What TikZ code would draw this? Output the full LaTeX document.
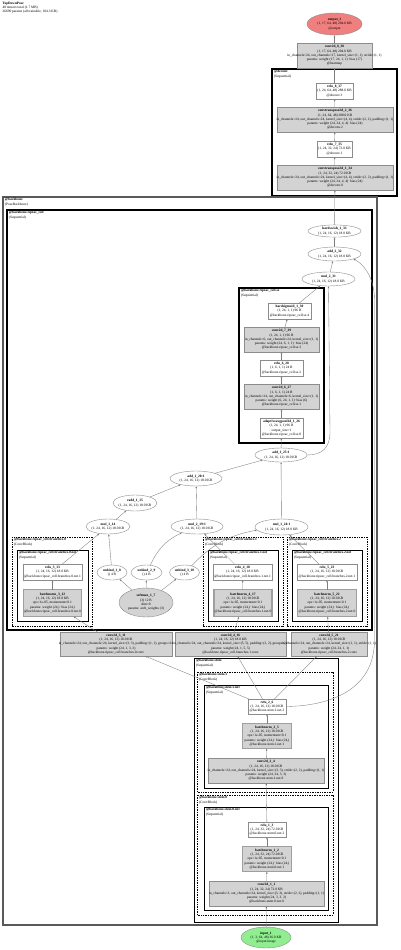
\documentclass[tikz,border=0pt]{standalone}
\usepackage{fontspec}
\setmainfont{Liberation Serif}
\usetikzlibrary{shapes.geometric,arrows.meta}
\definecolor{nodegray}{HTML}{D3D3D3}
\definecolor{edgegray}{HTML}{7F7F7F}
\definecolor{outred}{HTML}{F08080}
\definecolor{ingreen}{HTML}{90EE90}
\definecolor{bordergray}{HTML}{8C8C8C}
\newcommand\tl[1]{\makebox[0pt]{\begin{tabular}{@{}c@{}}#1\end{tabular}}}
\newcommand\nn[6]{\node[#1, minimum width=#4pt, minimum height=#5pt] (#2) at (#3) {\tl{#6}};}
\tikzset{
  lbl/.style={font=\fontsize{3.5}{4.3}\selectfont, inner sep=0pt, outer sep=0pt},
  gbox/.style={lbl, rectangle, draw=bordergray, fill=nodegray, line width=0.4pt},
  wbox/.style={lbl, rectangle, draw=bordergray, fill=white, line width=0.4pt},
  bnbox/.style={lbl, rectangle, draw=gray!75, fill=nodegray, line width=1.4pt},
  oval/.style={lbl, ellipse, draw=bordergray, fill=white, line width=0.4pt},
  goval/.style={oval, fill=nodegray},
  clus/.style={draw=black, line width=1.3pt},
  bbclus/.style={draw=gray!70!black, line width=1.6pt},
  nclus/.style={draw=black, line width=0.9pt},
  dclus/.style={draw=black, line width=0.6pt, dash pattern=on 1pt off 0.7pt},
  clab/.style={lbl, anchor=north west, align=left},
  edge/.style={draw=edgegray, line width=0.35pt, -{Latex[length=2.2pt,width=1.7pt]}},
}
\begin{document}
\begin{tikzpicture}[x=1pt,y=-1pt]
\useasboundingbox (0,0) rectangle (400,950);
\fill[white] (0,0) rectangle (400,950);

% header
\node[clab] (hdr) at (2.5,2) {\textbf{TopDownPose}\\40 tensors total (1.7 MB)\\26690 params (all trainable, 104.3 KB)};

% ---------- clusters ----------
\draw[clus] (272,69) rectangle (397,196);
\node[clab] (l_deconv) at (274,70.5) {\textbf{@deconv}\\(Sequential)};
\draw[bbclus] (3,197) rectangle (377,925);
\node[clab] (l_bb) at (5,198.5) {\textbf{@backbone}\\(PoseBackbone)};
\draw[clus] (7,210) rectangle (372,630);
\node[clab] (l_cell) at (9,211.5) {\textbf{@backbone.ripeac\_cell}\\(Sequential)};
\draw[clus] (239,288) rectangle (324,443);
\node[clab] (l_se) at (241,289.5) {\textbf{@backbone.ripeac\_cell.se}\\(Sequential)};
\draw[dclus] (12,537) rectangle (92,626);
\node[clab] (l_b0) at (14,538.5) {\textbf{@backbone.ripeac\_cell.branches.0}\\(ConvBlock)};
\draw[nclus] (17,550) rectangle (88,621);
\node[clab] (l_b0n) at (19,551.5) {\textbf{@backbone.ripeac\_cell.branches.0.net}\\(Sequential)};
\draw[dclus] (203,537) rectangle (283,626);
\node[clab] (l_b1) at (205,538.5) {\textbf{@backbone.ripeac\_cell.branches.1}\\(ConvBlock)};
\draw[nclus] (208,550) rectangle (278,621);
\node[clab] (l_b1n) at (210,551.5) {\textbf{@backbone.ripeac\_cell.branches.1.net}\\(Sequential)};
\draw[dclus] (287,537) rectangle (367,626);
\node[clab] (l_b2) at (289,538.5) {\textbf{@backbone.ripeac\_cell.branches.2}\\(ConvBlock)};
\draw[nclus] (292,550) rectangle (362,621);
\node[clab] (l_b2n) at (294,551.5) {\textbf{@backbone.ripeac\_cell.branches.2.net}\\(Sequential)};
\draw[nclus] (194,658) rectangle (338,922);
\node[clab] (l_stem) at (196,659.5) {\textbf{@backbone.stem}\\(Sequential)};
\draw[dclus] (197,672) rectangle (333,792);
\node[clab] (l_s1) at (199,673.5) {\textbf{@backbone.stem.1}\\(ConvBlock)};
\draw[nclus] (204,685) rectangle (328,788);
\node[clab] (l_s1n) at (206,686.5) {\textbf{@backbone.stem.1.net}\\(Sequential)};
\draw[dclus] (197,795) rectangle (333,915);
\node[clab] (l_s0) at (199,796.5) {\textbf{@backbone.stem.0}\\(ConvBlock)};
\draw[nclus] (204,807) rectangle (328,910);
\node[clab] (l_s0n) at (206,808.5) {\textbf{@backbone.stem.0.net}\\(Sequential)};

% ---------- nodes ----------
\nn{oval, fill=outred}{output_1}{334.5,24}{55}{22}{\textbf{output\_1}\\(1, 17, 64, 48) 204.0 KB\\@output}
\nn{gbox}{conv2d_8_38}{334.5,55.5}{75}{25}{\textbf{conv2d\_8\_38}\\(1, 17, 64, 48) 204.0 KB\\in\_channels=24, out\_channels=17, kernel\_size=(1, 1), stride=(1, 1)\\params: weight (17, 24, 1, 1)· bias (17)\\@heatmap}
\nn{wbox}{relu_8_37}{334.5,91}{37}{16}{\textbf{relu\_8\_37}\\(1, 24, 64, 48) 288.0 KB\\@deconv.3}
\nn{gbox}{convt_2_36}{335,119.5}{116}{25}{\textbf{convtranspose2d\_2\_36}\\(1, 24, 64, 48) 288.0 KB\\in\_channels=24, out\_channels=24, kernel\_size=(4, 4), stride=(2, 2), padding=(1, 1)\\params: weight (24, 24, 4, 4)· bias (24)\\@deconv.2}
\nn{wbox}{relu_7_35}{334.5,149}{35}{16}{\textbf{relu\_7\_35}\\(1, 24, 32, 24) 72.0 KB\\@deconv.1}
\nn{gbox}{convt_1_34}{335,177.5}{116}{25}{\textbf{convtranspose2d\_1\_34}\\(1, 24, 32, 24) 72.0 KB\\in\_channels=24, out\_channels=24, kernel\_size=(4, 4), stride=(2, 2), padding=(1, 1)\\params: weight (24, 24, 4, 4)· bias (24)\\@deconv.0}
\nn{oval}{hardswish_1_33}{334.5,231}{53}{12}{\textbf{hardswish\_1\_33}\\(1, 24, 16, 12) 18.0 KB}
\nn{oval}{add_2_32}{334.5,254}{53}{14}{\textbf{add\_2\_32}\\(1, 24, 16, 12) 18.0 KB}
\nn{oval}{mul_2_31}{328.5,279}{53}{14}{\textbf{mul\_2\_31}\\(1, 24, 16, 12) 18.0 KB}
\nn{wbox}{hardsigmoid_1_30}{289.5,311}{43}{16}{\textbf{hardsigmoid\_1\_30}\\(1, 24, 1, 1) 96 B\\@backbone.ripeac\_cell.se.4}
\nn{gbox}{conv2d_7_29}{281.5,339.5}{75}{25}{\textbf{conv2d\_7\_29}\\(1, 24, 1, 1) 96 B\\in\_channels=6, out\_channels=24, kernel\_size=(1, 1)\\params: weight (24, 6, 1, 1)· bias (24)\\@backbone.ripeac\_cell.se.3}
\nn{wbox}{relu_6_28}{281.5,368}{43}{16}{\textbf{relu\_6\_28}\\(1, 6, 1, 1) 24 B\\@backbone.ripeac\_cell.se.2}
\nn{gbox}{conv2d_6_27}{281.5,396.5}{75}{25}{\textbf{conv2d\_6\_27}\\(1, 6, 1, 1) 24 B\\in\_channels=24, out\_channels=6, kernel\_size=(1, 1)\\params: weight (6, 24, 1, 1)· bias (6)\\@backbone.ripeac\_cell.se.1}
\nn{wbox}{avgpool_1_26}{281.5,428}{43}{20}{\textbf{adaptiveavgpool2d\_1\_26}\\(1, 24, 1, 1) 96 B\\output\_size=1\\@backbone.ripeac\_cell.se.0}
\nn{oval}{add_1_25}{281,455}{52}{14}{\textbf{add\_1\_25:1}\\(1, 24, 16, 12) 18.0 KB}
\nn{oval}{add_1_20}{196,478.5}{52}{15}{\textbf{add\_1\_20:1}\\(1, 24, 16, 12) 18.0 KB}
\nn{oval}{radd_1_15}{135,503}{44}{16}{\textbf{radd\_1\_15}\\(1, 24, 16, 12) 18.0 KB}
\nn{oval}{mul_1_14}{108,526.5}{44}{15}{\textbf{mul\_1\_14}\\(1, 24, 16, 12) 18.0 KB}
\nn{oval}{mul_2_19}{197,526.5}{52}{15}{\textbf{mul\_2\_19:1}\\(1, 24, 16, 12) 18.0 KB}
\nn{oval}{mul_3_24}{281.5,527}{53}{16}{\textbf{mul\_1\_24:1}\\(1, 24, 16, 12) 18.0 KB}
\nn{oval}{unbind_1_8}{112,572.5}{30}{15}{\textbf{unbind\_1\_8}\\() 4 B}
\nn{oval}{unbind_2_9}{146.5,572.5}{31}{15}{\textbf{unbind\_2\_9}\\() 4 B}
\nn{oval}{unbind_3_10}{184.5,572.5}{30}{15}{\textbf{unbind\_3\_10}\\() 4 B}
\nn{goval}{softmax_1_7}{146,602.5}{54}{29}{\textbf{softmax\_1\_7}\\(3) 12 B\\dim=0\\params: arch\_weights (3)}
\nn{wbox}{relu_3_13}{52.5,572}{59}{16}{\textbf{relu\_3\_13}\\(1, 24, 16, 12) 18.0 KB\\@backbone.ripeac\_cell.branches.0.net.1}
\nn{bnbox}{bn_3_12}{52.5,603}{58}{27}{\textbf{batchnorm\_3\_12}\\(1, 24, 16, 12) 18.0 KB\\eps=1e-05, momentum=0.1\\params: weight (24,)· bias (24,)\\@backbone.ripeac\_cell.branches.0.net.0}
\nn{wbox}{relu_4_18}{242.5,572}{59}{16}{\textbf{relu\_4\_18}\\(1, 24, 16, 12) 18.0 KB\\@backbone.ripeac\_cell.branches.1.net.1}
\nn{bnbox}{bn_4_17}{243,603}{58}{27}{\textbf{batchnorm\_4\_17}\\(1, 24, 16, 12) 18.0 KB\\eps=1e-05, momentum=0.1\\params: weight (24,)· bias (24,)\\@backbone.ripeac\_cell.branches.1.net.0}
\nn{wbox}{relu_5_23}{327,572}{60}{16}{\textbf{relu\_5\_23}\\(1, 24, 16, 12) 18.0 KB\\@backbone.ripeac\_cell.branches.2.net.1}
\nn{bnbox}{bn_5_22}{327,603}{59}{27}{\textbf{batchnorm\_5\_22}\\(1, 24, 16, 12) 18.0 KB\\eps=1e-05, momentum=0.1\\params: weight (24,)· bias (24,)\\@backbone.ripeac\_cell.branches.2.net.0}
\nn{gbox}{conv2d_3_11}{116,644}{112}{24}{\textbf{conv2d\_3\_11}\\(1, 24, 16, 12) 18.0 KB\\in\_channels=24, out\_channels=24, kernel\_size=(3, 3), padding=(1, 1), groups=24\\params: weight (24, 1, 3, 3)\\@backbone.ripeac\_cell.branches.0.conv}
\nn{gbox}{conv2d_4_16}{230.5,644}{111}{24}{\textbf{conv2d\_4\_16}\\(1, 24, 16, 12) 18.0 KB\\in\_channels=24, out\_channels=24, kernel\_size=(5, 5), padding=(2, 2), groups=24\\params: weight (24, 1, 5, 5)\\@backbone.ripeac\_cell.branches.1.conv}
\nn{gbox}{conv2d_5_21}{329,644}{76}{24}{\textbf{conv2d\_5\_21}\\(1, 24, 16, 12) 18.0 KB\\in\_channels=24, out\_channels=24, kernel\_size=(1, 1), stride=(1, 1)\\params: weight (24, 24, 1, 1)\\@backbone.ripeac\_cell.branches.2.conv}
\nn{wbox}{relu_2_6}{267,706.5}{38}{15}{\textbf{relu\_2\_6}\\(1, 24, 16, 12) 18.0 KB\\@backbone.stem.1.net.2}
\nn{bnbox}{bn_2_5}{267,736}{49}{25}{\textbf{batchnorm\_2\_5}\\(1, 24, 16, 12) 18.0 KB\\eps=1e-05, momentum=0.1\\params: weight (24,)· bias (24,)\\@backbone.stem.1.net.1}
\nn{gbox}{conv2d_2_4}{266,770.5}{116}{25}{\textbf{conv2d\_2\_4}\\(1, 24, 16, 12) 18.0 KB\\in\_channels=24, out\_channels=24, kernel\_size=(3, 3), stride=(2, 2), padding=(1, 1)\\params: weight (24, 24, 3, 3)\\@backbone.stem.1.net.0}
\nn{wbox}{relu_1_3}{267,829.5}{38}{15}{\textbf{relu\_1\_3}\\(1, 24, 32, 24) 72.0 KB\\@backbone.stem.0.net.2}
\nn{bnbox}{bn_1_2}{267,859}{49}{25}{\textbf{batchnorm\_1\_2}\\(1, 24, 32, 24) 72.0 KB\\eps=1e-05, momentum=0.1\\params: weight (24,)· bias (24,)\\@backbone.stem.0.net.1}
\nn{gbox}{conv2d_1_1}{266.5,893.5}{115}{25}{\textbf{conv2d\_1\_1}\\(1, 24, 32, 24) 72.0 KB\\in\_channels=3, out\_channels=24, kernel\_size=(3, 3), stride=(2, 2), padding=(1, 1)\\params: weight (24, 3, 3, 3)\\@backbone.stem.0.net.0}
\nn{oval, fill=ingreen}{input_1}{266,937.5}{50}{21}{\textbf{input\_1}\\(1, 3, 64, 48) 36.0 KB\\@input.image}

% ---------- edges ----------
\draw[edge] (input_1) -- (conv2d_1_1);
\draw[edge] (conv2d_1_1) -- (bn_1_2);
\draw[edge] (bn_1_2) -- (relu_1_3);
\draw[edge] (relu_1_3) -- (conv2d_2_4);
\draw[edge] (conv2d_2_4) -- (bn_2_5);
\draw[edge] (bn_2_5) -- (relu_2_6);
\draw[edge] (relu_2_6) -- (conv2d_3_11);
\draw[edge] (relu_2_6) -- (conv2d_4_16);
\draw[edge] (relu_2_6) -- (conv2d_5_21);
\draw[edge] (relu_2_6.east) .. controls (330,706) and (374.5,690) .. (374.5,640) -- (374.5,300) .. controls (374.5,276) and (362,263) .. (add_2_32.south east);
\draw[edge] (conv2d_3_11) -- (bn_3_12);
\draw[edge] (bn_3_12) -- (relu_3_13);
\draw[edge] (relu_3_13) -- (mul_1_14);
\draw[edge] (conv2d_4_16) -- (bn_4_17);
\draw[edge] (bn_4_17) -- (relu_4_18);
\draw[edge] (relu_4_18) -- (mul_2_19);
\draw[edge] (conv2d_5_21) -- (bn_5_22);
\draw[edge] (bn_5_22) -- (relu_5_23);
\draw[edge] (relu_5_23) -- (mul_3_24);
\draw[edge] (softmax_1_7) -- (unbind_1_8);
\draw[edge] (softmax_1_7) -- (unbind_2_9);
\draw[edge] (softmax_1_7) -- (unbind_3_10);
\draw[edge] (unbind_1_8) -- (mul_1_14);
\draw[edge] (unbind_2_9) to[bend left=20] (mul_2_19);
\draw[edge] (unbind_3_10) to[bend left=18] (mul_3_24);
\draw[edge] (mul_1_14) -- (radd_1_15);
\draw[edge] (radd_1_15) -- (add_1_20);
\draw[edge] (mul_2_19) -- (add_1_20);
\draw[edge] (add_1_20) -- (add_1_25);
\draw[edge] (mul_3_24) -- (add_1_25);
\draw[edge] (add_1_25) -- (avgpool_1_26);
\draw[edge] (avgpool_1_26) -- (conv2d_6_27);
\draw[edge] (conv2d_6_27) -- (relu_6_28);
\draw[edge] (relu_6_28) -- (conv2d_7_29);
\draw[edge] (conv2d_7_29) -- (hardsigmoid_1_30);
\draw[edge] (hardsigmoid_1_30) -- (mul_2_31);
\draw[edge] (add_1_25.east) .. controls (322,455) and (330,448) .. (330,432) -- (mul_2_31.south);
\draw[edge] (mul_2_31) -- (add_2_32);
\draw[edge] (add_2_32) -- (hardswish_1_33);
\draw[edge] (hardswish_1_33) -- (convt_1_34);
\draw[edge] (convt_1_34) -- (relu_7_35);
\draw[edge] (relu_7_35) -- (convt_2_36);
\draw[edge] (convt_2_36) -- (relu_8_37);
\draw[edge] (relu_8_37) -- (conv2d_8_38);
\draw[edge] (conv2d_8_38) -- (output_1);
\end{tikzpicture}
\end{document}
